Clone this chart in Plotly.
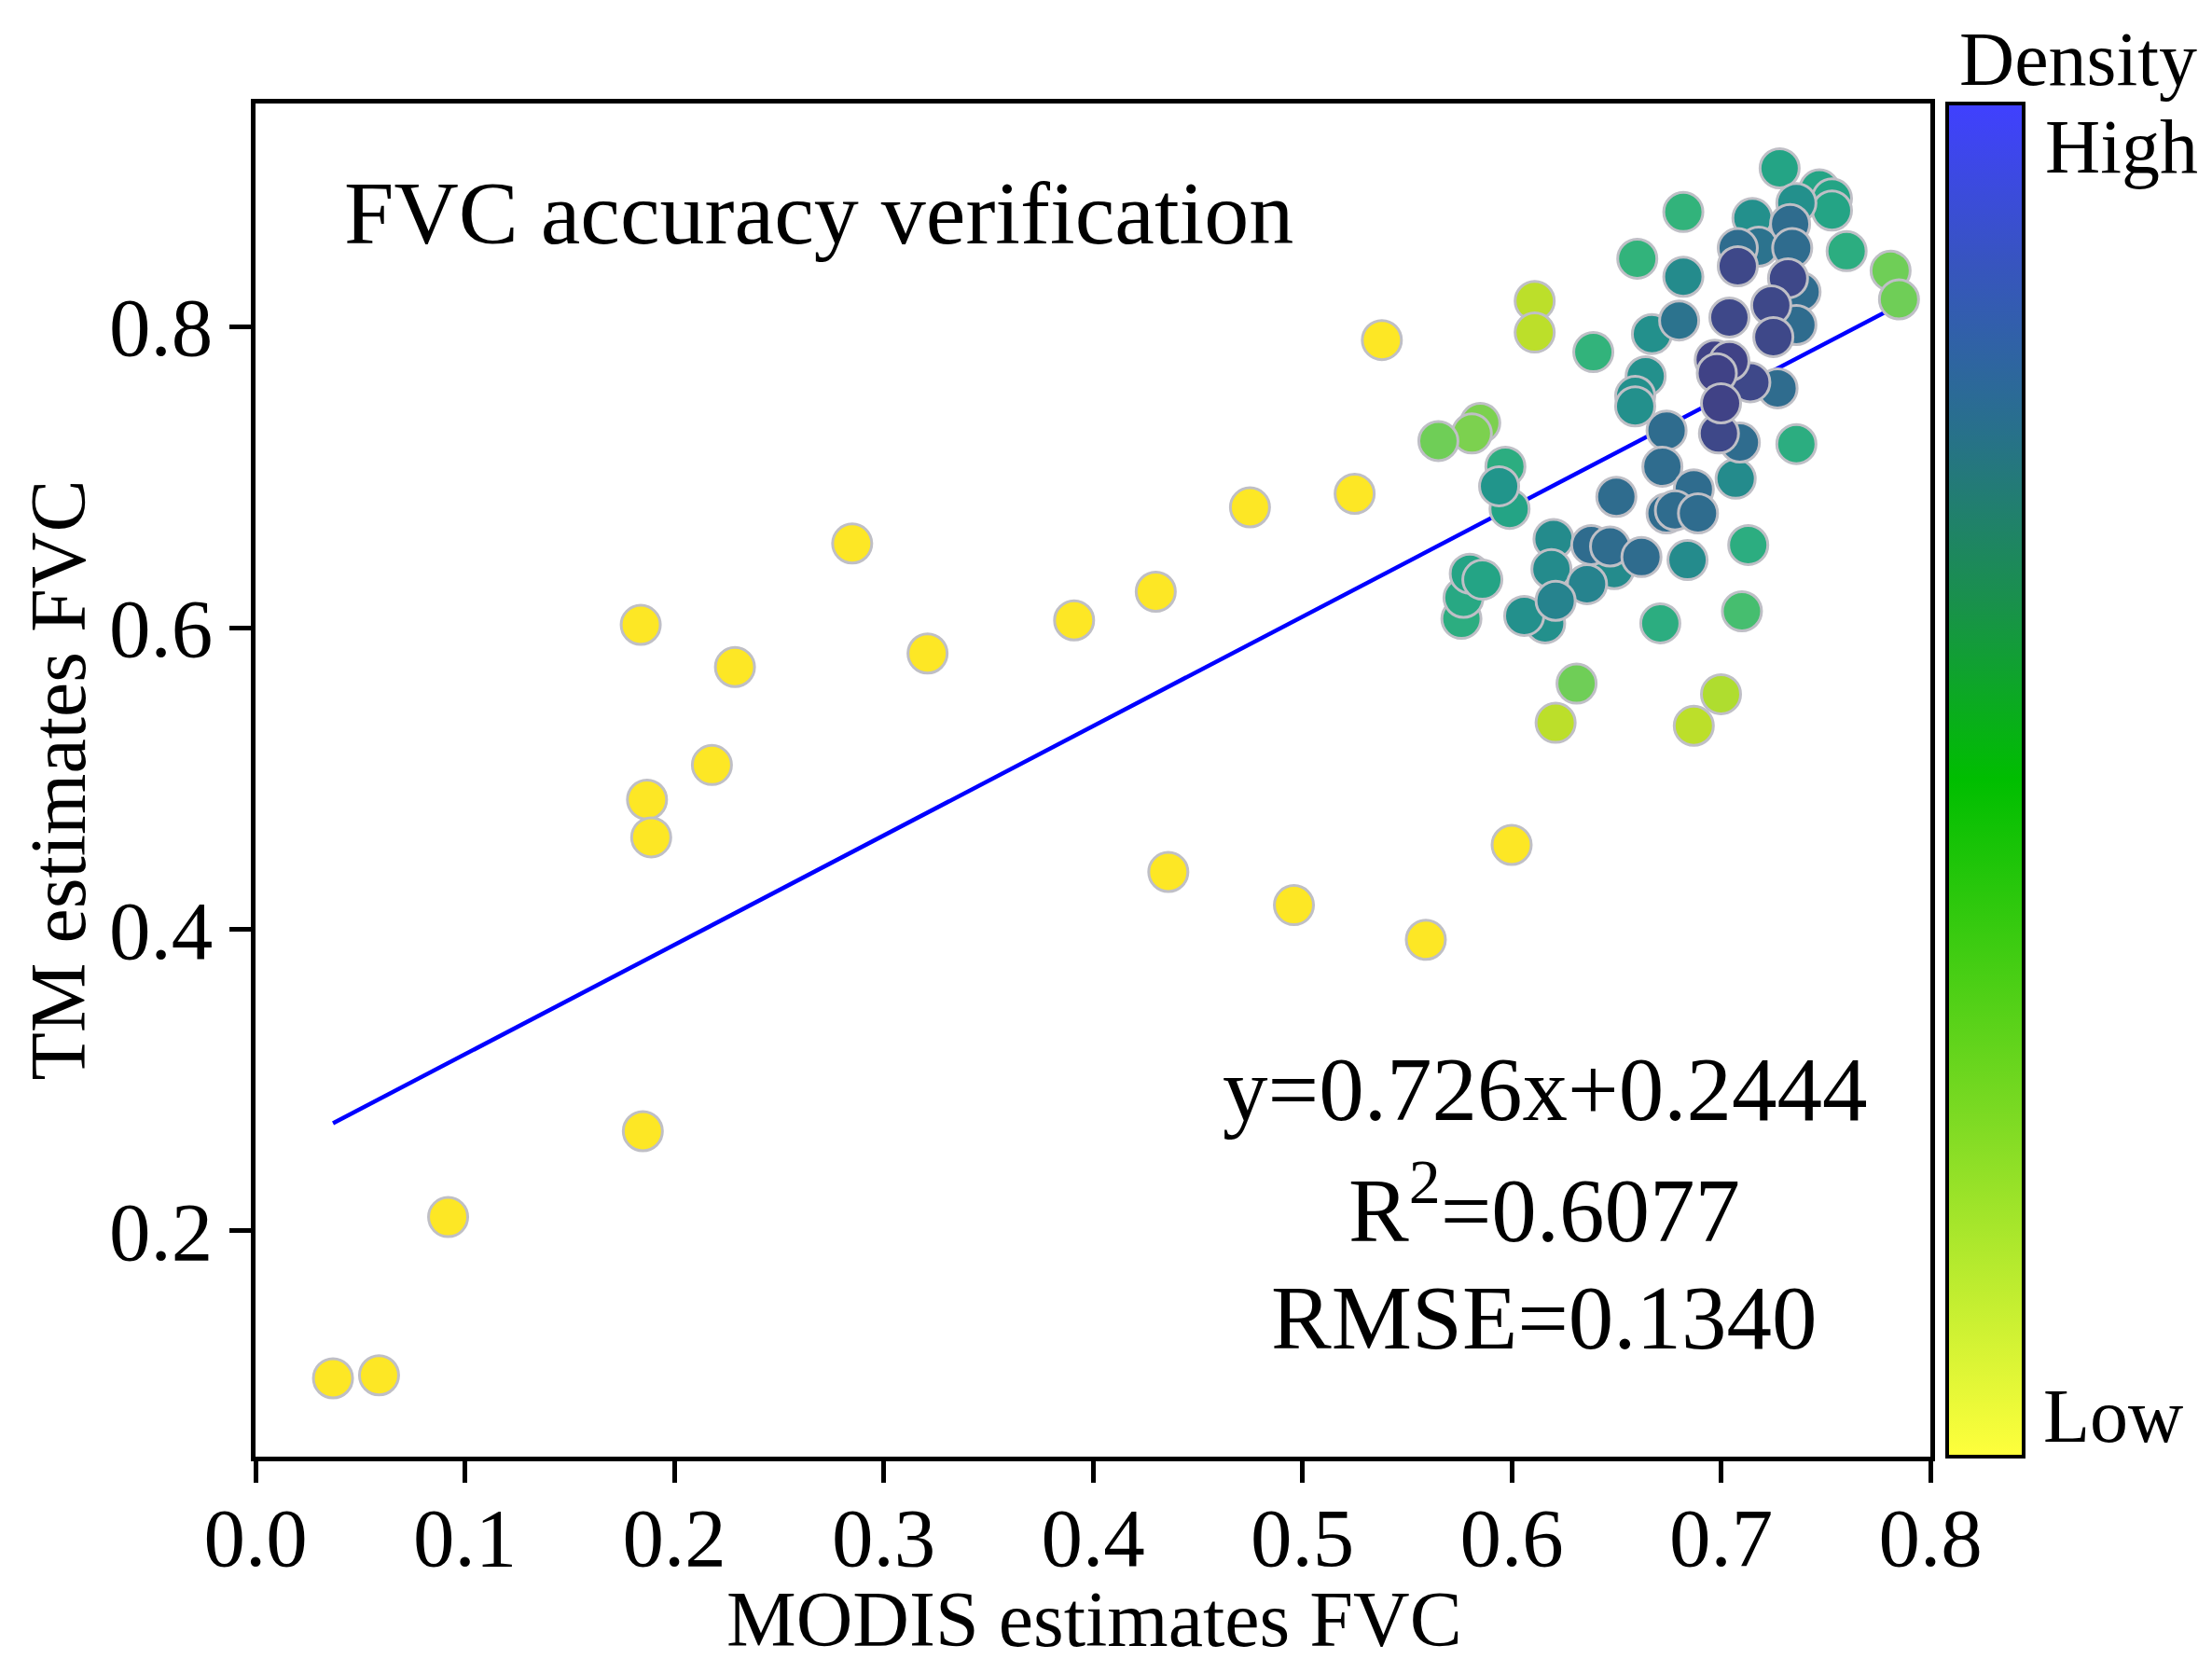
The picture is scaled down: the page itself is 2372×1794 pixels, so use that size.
import numpy as np
import plotly.graph_objects as go

# MODIS FVC (x), TM FVC (y), point density (0 = low, 0.8 = high)
modis = [0.037, 0.059, 0.092, 0.185, 0.184, 0.187, 0.189, 0.218, 0.229, 0.285,
         0.321, 0.391, 0.430, 0.436, 0.475, 0.496, 0.525, 0.538, 0.559, 0.600,
         0.611, 0.611, 0.660, 0.639, 0.667, 0.664, 0.659, 0.659, 0.585, 0.581,
         0.565, 0.674, 0.728, 0.682, 0.747, 0.753, 0.753, 0.736, 0.715, 0.718,
         0.708, 0.708, 0.733, 0.734, 0.760, 0.781, 0.785, 0.682, 0.732, 0.738,
         0.724, 0.736, 0.725, 0.704, 0.680, 0.697, 0.704, 0.698, 0.714, 0.727,
         0.700, 0.699, 0.709, 0.736, 0.597, 0.594, 0.599, 0.650, 0.672, 0.674,
         0.620, 0.619, 0.638, 0.647, 0.662, 0.649, 0.636, 0.621, 0.616, 0.606,
         0.580, 0.586, 0.577, 0.576, 0.671, 0.631, 0.621, 0.707, 0.687, 0.678,
         0.689, 0.713, 0.684, 0.710, 0.700, 0.687]
tm = [0.102, 0.104, 0.209, 0.266, 0.602, 0.486, 0.461, 0.509, 0.574, 0.656,
      0.583, 0.605, 0.624, 0.438, 0.680, 0.416, 0.689, 0.791, 0.393, 0.456,
      0.817, 0.796, 0.845, 0.783, 0.795, 0.767, 0.754, 0.747, 0.736, 0.729,
      0.724, 0.731, 0.905, 0.876, 0.891, 0.885, 0.877, 0.882, 0.872, 0.853,
      0.852, 0.840, 0.868, 0.852, 0.850, 0.837, 0.818, 0.833, 0.832, 0.823,
      0.814, 0.801, 0.793, 0.806, 0.804, 0.778, 0.777, 0.769, 0.763, 0.759,
      0.749, 0.729, 0.723, 0.722, 0.707, 0.694, 0.679, 0.687, 0.707, 0.676,
      0.659, 0.639, 0.655, 0.654, 0.647, 0.639, 0.629, 0.618, 0.603, 0.608,
      0.636, 0.632, 0.620, 0.606, 0.603, 0.563, 0.537, 0.699, 0.692, 0.678,
      0.676, 0.655, 0.645, 0.611, 0.556, 0.535]
density = [0, 0, 0, 0, 0, 0, 0, 0, 0, 0,
           0, 0, 0, 0, 0, 0, 0, 0, 0, 0,
           0.1, 0.1, 0.35, 0.35, 0.5, 0.5, 0.5, 0.5, 0.2, 0.2,
           0.22, 0.65, 0.42, 0.35, 0.42, 0.42, 0.42, 0.5, 0.5, 0.62,
           0.65, 0.78, 0.65, 0.65, 0.38, 0.22, 0.22, 0.52, 0.78, 0.65,
           0.78, 0.65, 0.78, 0.78, 0.62, 0.8, 0.8, 0.8, 0.78, 0.65,
           0.8, 0.78, 0.65, 0.38, 0.38, 0.48, 0.42, 0.65, 0.65, 0.65,
           0.52, 0.52, 0.65, 0.65, 0.65, 0.52, 0.55, 0.55, 0.5, 0.5,
           0.42, 0.42, 0.4, 0.38, 0.38, 0.22, 0.1, 0.52, 0.65, 0.65,
           0.65, 0.38, 0.52, 0.3, 0.12, 0.1]

slope, intercept = 0.726, 0.2444
stats_text = ["y=0.726x+0.2444", "R<sup>2</sup>=0.6077", "RMSE=0.1340"]

x_ticks = [0.0, 0.1, 0.2, 0.3, 0.4, 0.5, 0.6, 0.7, 0.8]
y_ticks = [0.2, 0.4, 0.6, 0.8]

FONT = "Liberation Serif"

# draw dense points last
order = np.argsort(density, kind="stable")
xs = np.array(modis)[order]
ys = np.array(tm)[order]
ds = np.array(density)[order]

line_x = np.array([min(modis), max(modis)])
line_y = slope * line_x + intercept

bar_scale = [
    [0.0, "rgb(255,255,60)"],
    [0.25, "rgb(125,218,35)"],
    [0.5, "rgb(0,190,0)"],
    [0.63, "rgb(25,145,75)"],
    [0.76, "rgb(40,112,140)"],
    [0.88, "rgb(55,85,190)"],
    [1.0, "rgb(64,64,255)"],
]

fig = go.Figure()

fig.add_trace(go.Scatter(
    x=line_x, y=line_y, mode="lines",
    line=dict(color="#0000ff", width=4.5),
    showlegend=False, hoverinfo="skip"))

fig.add_trace(go.Scatter(
    x=xs, y=ys, mode="markers",
    marker=dict(size=42, color=ds, colorscale="Viridis", reversescale=True,
                cmin=0, cmax=1, line=dict(color="#bfbfc6", width=3)),
    showlegend=False))

# colour bar only
fig.add_trace(go.Scatter(
    x=[None], y=[None], mode="markers",
    marker=dict(color=[0], colorscale=bar_scale, cmin=0, cmax=1, showscale=True,
                colorbar=dict(thickness=82, thicknessmode="pixels", len=1, lenmode="fraction",
                              x=1.010, xanchor="left", y=0.5, yanchor="middle",
                              xpad=0, ypad=0, outlinewidth=4, outlinecolor="black",
                              showticklabels=False, ticks="")),
    showlegend=False, hoverinfo="skip"))

axis_common = dict(showline=True, linecolor="black", linewidth=5, mirror=True,
                   ticks="outside", ticklen=23, tickwidth=5, tickcolor="black",
                   showgrid=False, zeroline=False,
                   tickfont=dict(family=FONT, size=89, color="black"))

fig.update_xaxes(range=[0, 0.8], tickvals=x_ticks, tickformat=".1f",
                 ticklabelstandoff=-18, **axis_common)
fig.update_yaxes(range=[0.05, 0.948], tickvals=y_ticks, tickformat=".1f", **axis_common)

ann = [
    dict(text="FVC accuracy verification", x=0.052, y=0.919, xanchor="left", yanchor="middle",
         font=dict(size=96)),
    dict(text="MODIS estimates FVC", x=0.501, y=-0.12, xanchor="center", yanchor="middle",
         font=dict(size=84)),
    dict(text="TM estimates FVC", x=-0.118, y=0.5, xanchor="center", yanchor="middle",
         textangle=-90, font=dict(size=84)),
    dict(text="Density", x=1.088, y=1.033, xanchor="center", yanchor="middle",
         font=dict(size=82)),
    dict(text="High", x=1.161, y=0.968, xanchor="right", yanchor="middle",
         font=dict(size=82)),
    dict(text="Low", x=1.066, y=0.030, xanchor="left", yanchor="middle",
         font=dict(size=82)),
]
for txt, yy in zip(stats_text, [0.2715, 0.1874, 0.102]):
    ann.append(dict(text=txt, x=0.7695, y=yy, xanchor="center", yanchor="middle",
                    font=dict(size=97)))
for a in ann:
    a.update(xref="paper", yref="paper", showarrow=False)
    a["font"].update(family=FONT, color="black")

fig.update_layout(
    width=2372, height=1794,
    margin=dict(l=266, r=310, t=103, b=240),
    paper_bgcolor="white", plot_bgcolor="white",
    annotations=ann,
)

fig.write_html("out.html")
